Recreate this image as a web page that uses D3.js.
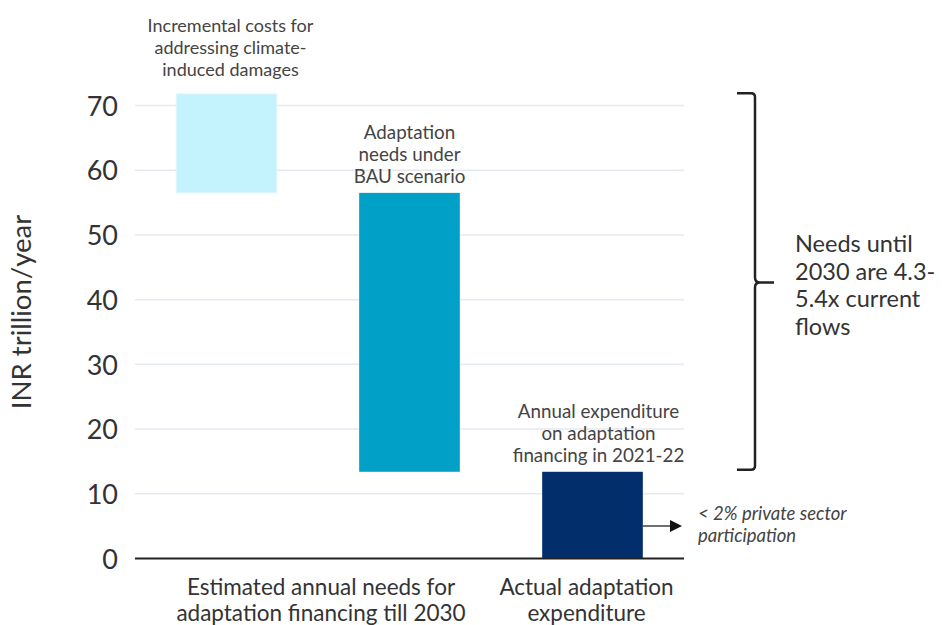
<!DOCTYPE html>
<html><head><meta charset="utf-8">
<script src="https://cdn.jsdelivr.net/npm/d3@7"></script>
<style>body{margin:0;background:#fff}svg{display:block}text{font-family:Lato,"Open Sans",sans-serif}</style>
</head><body>
<svg id="c" width="947" height="625"></svg>
<script>
const barKeys = ["incremental", "bau", "actual"];
const barLow = [56.5, 13.4, 0];
const barHigh = [71.8, 56.5, 13.4];
const barColors = ["#c4f3fd", "#00a0c7", "#022f6b"];
const barNotes = [
  ["Incremental costs for", "addressing climate-", "induced damages"],
  ["Adaptation", "needs under", "BAU scenario"],
  ["Annual expenditure", "on adaptation", "financing in 2021-22"]
];
const yTicks = [0, 10, 20, 30, 40, 50, 60, 70];
const groupLabels = [
  ["Estimated annual needs for", "adaptation financing till 2030"],
  ["Actual adaptation", "expenditure"]
];
const yTitle = "INR trillion/year";
const braceNote = ["Needs until", "2030 are 4.3-", "5.4x current", "flows"];
const arrowNote = ["< 2% private sector", "participation"];

const noteSizes = [18, 18.8, 18.8];
const noteGaps = [18, 10, 10];
const noteShift = [4, 0, 6];

const svg = d3.select("#c");
const y = d3.scaleLinear().domain([0, 70]).range([558.5, 105.5]);
const x = d3.scaleBand().domain(barKeys).range([135, 684]).paddingInner(0.45).paddingOuter(0.225);

// grid
svg.append("g").selectAll("line").data(yTicks.filter(d => d > 0)).join("line")
  .attr("x1", 135).attr("x2", 684).attr("y1", d => y(d)).attr("y2", d => y(d))
  .attr("stroke", "#e4e9f2").attr("stroke-width", 1.5);

// y axis labels
const yAxis = d3.axisLeft(y).tickValues(yTicks).tickSize(0).tickPadding(0);
const ga = svg.append("g").attr("transform", "translate(118,0)").call(yAxis);
ga.select(".domain").remove();
ga.selectAll("text").attr("font-size", 27).attr("fill", "#333").attr("font-family", "Lato, sans-serif").attr("dy", "0.36em");

// bars
svg.append("g").selectAll("rect").data(barKeys).join("rect")
  .attr("x", d => x(d)).attr("width", x.bandwidth())
  .attr("y", (d, i) => y(barHigh[i])).attr("height", (d, i) => y(barLow[i]) - y(barHigh[i]))
  .attr("fill", (d, i) => barColors[i])
  .attr("stroke", (d, i) => i === 0 ? "#e0f7fc" : "none").attr("stroke-width", 1);

// baseline
svg.append("line").attr("x1", 135).attr("x2", 684).attr("y1", y(0)).attr("y2", y(0))
  .attr("stroke", "#222").attr("stroke-width", 2);

// bar notes
barNotes.forEach((lines, i) => {
  const cx = x(barKeys[i]) + x.bandwidth() / 2 + noteShift[i];
  const lh = 21.7;
  const lastY = y(barHigh[i]) - noteGaps[i];
  const t = svg.append("text").attr("text-anchor", "middle").attr("font-size", noteSizes[i]).attr("fill", "#444");
  lines.forEach((l, j) => t.append("tspan").attr("x", cx).attr("y", lastY - (lines.length - 1 - j) * lh).text(l));
});

// group labels
const gCenters = [(x(barKeys[0]) + x(barKeys[1]) + x.bandwidth()) / 2 + 3, x(barKeys[2]) + x.bandwidth() / 2 - 6];
groupLabels.forEach((lines, i) => {
  const t = svg.append("text").attr("text-anchor", "middle").attr("font-size", 22.5).attr("fill", "#333");
  lines.forEach((l, j) => t.append("tspan").attr("x", gCenters[i]).attr("y", 595 + j * 25.5).text(l));
});

// y title
svg.append("text").attr("transform", "translate(31,312) rotate(-90)").attr("text-anchor", "middle")
  .attr("font-size", 27.5).attr("fill", "#333").text(yTitle);

// brace
const bTop = y(barHigh[0]) - 0.5, bBot = y(barLow[1]) - 2, bMid = (bTop + bBot) / 2 + 1;
const bx = 755;
svg.append("path").attr("fill", "none").attr("stroke", "#222").attr("stroke-width", 2.5)
  .attr("d", `M737,${bTop} L${bx - 4},${bTop} Q${bx},${bTop} ${bx},${bTop + 4} L${bx},${bMid - 5} Q${bx},${bMid} ${bx + 5},${bMid} L774,${bMid} M${bx + 5},${bMid} Q${bx},${bMid} ${bx},${bMid + 5} L${bx},${bBot - 4} Q${bx},${bBot} ${bx - 4},${bBot} L737,${bBot}`);
const bt = svg.append("text").attr("font-size", 23.5).attr("fill", "#333");
braceNote.forEach((l, j) => bt.append("tspan").attr("x", 795).attr("y", 252 + j * 27.5).text(l));

// arrow
const ay = 526;
const ax0 = x(barKeys[2]) + x.bandwidth();
svg.append("line").attr("x1", ax0).attr("x2", 671).attr("y1", ay).attr("y2", ay).attr("stroke", "#222").attr("stroke-width", 1.3);
svg.append("path").attr("d", `M670,${ay - 6} L682,${ay} L670,${ay + 6} Z`).attr("fill", "#111");
const at = svg.append("text").attr("font-size", 18.5).attr("font-style", "italic").attr("fill", "#444");
arrowNote.forEach((l, j) => at.append("tspan").attr("x", 698).attr("y", 520 + j * 22).text(l));
</script>
</body></html>
